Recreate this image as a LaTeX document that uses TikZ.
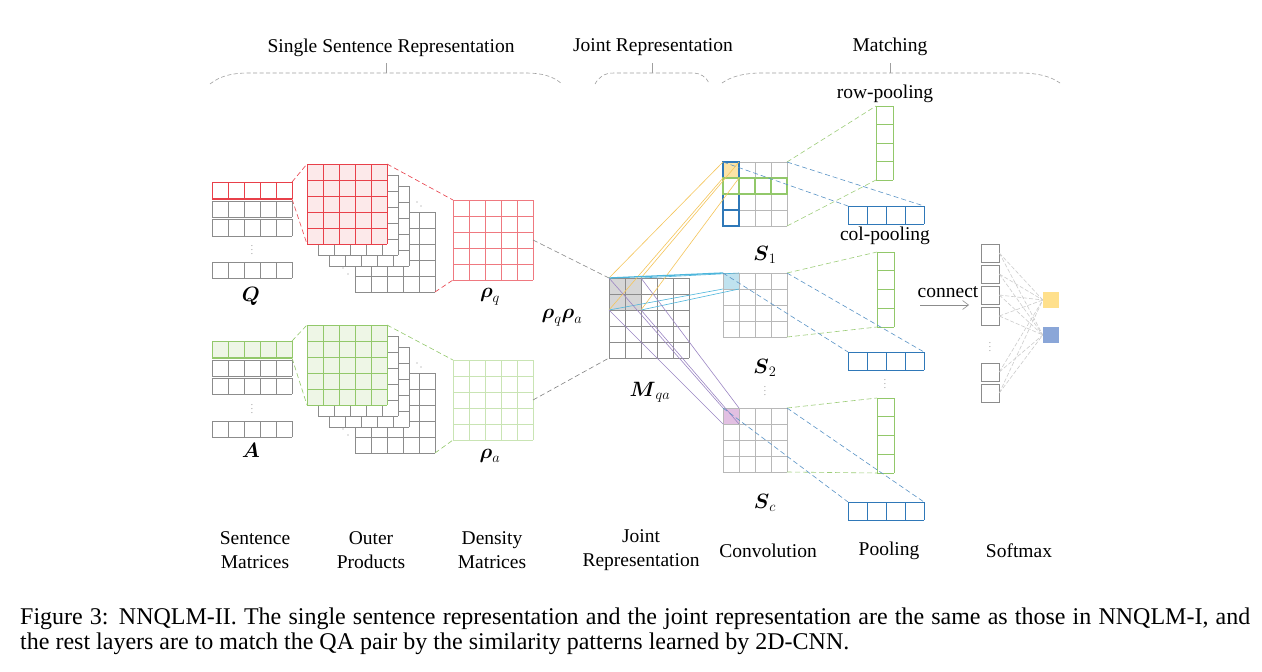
\documentclass[tikz,border=0pt]{standalone}
\usepackage{amsmath}
\usepackage{fontspec}
\setmainfont{Liberation Serif}
\usetikzlibrary{arrows.meta}
\definecolor{qred}{HTML}{E8404A}
\definecolor{qpink}{HTML}{FCE9EA}
\definecolor{agreen}{HTML}{92C86A}
\definecolor{alightg}{HTML}{EEF6E6}
\definecolor{apale}{HTML}{C9E4B4}
\definecolor{mgray}{HTML}{8C8C8C}
\definecolor{lgray}{HTML}{B8B8B8}
\definecolor{pblue}{HTML}{2F78B8}
\definecolor{yline}{HTML}{F5C55A}
\definecolor{yfill}{HTML}{FBE3A6}
\definecolor{cline}{HTML}{4DB6DC}
\definecolor{cfill}{HTML}{BFE2EF}
\definecolor{pline}{HTML}{9C86C4}
\definecolor{pfill}{HTML}{E2C0E2}
\definecolor{mfill}{HTML}{D6D6D6}
\definecolor{smy}{HTML}{FFE08C}
\definecolor{smb}{HTML}{8AA6D8}
\newcommand{\gridmat}[9]{%
 \begin{scope}[shift={(#2,#3)}]
  \path[#9] (0,0) rectangle ({#4*#6},{#5*#7});
  \foreach \ii in {0,...,#4} \draw[#8] ({\ii*#6},0) -- ({\ii*#6},{#5*#7});
  \foreach \jj in {0,...,#5} \draw[#8] (0,{\jj*#7}) -- ({#4*#6},{\jj*#7});
  \coordinate (#1-nw) at (0,0);
  \coordinate (#1-ne) at ({#4*#6},0);
  \coordinate (#1-sw) at (0,{#5*#7});
  \coordinate (#1-se) at ({#4*#6},{#5*#7});
  \coordinate (#1-e) at ({#4*#6},{#5*#7/2});
 \end{scope}}
\tikzset{
 txt/.style={font=\fontsize{19.5}{24}\selectfont, inner sep=0pt, align=center},
 mlab/.style={font=\fontsize{21}{24}\selectfont, inner sep=0pt},
 dotn/.style={font=\fontsize{9}{9}\selectfont, text=mgray, inner sep=0pt},
 brace/.style={draw=gray!75, dash pattern=on 4pt off 2.5pt, line width=0.6pt},
 tick/.style={draw=gray!75, line width=0.6pt},
 gline/.style={draw=mgray, line width=0.6pt},
 sline/.style={draw=lgray, line width=0.6pt},
 reddash/.style={draw=qred, dash pattern=on 5pt off 3pt, line width=0.6pt},
 grndash/.style={draw=agreen, dash pattern=on 5pt off 3pt, line width=0.6pt},
 graydash/.style={draw=gray, dash pattern=on 5pt off 3pt, line width=0.6pt},
 bluedash/.style={draw=pblue!80, dash pattern=on 5pt off 3pt, line width=0.6pt},
 gpdash/.style={draw=agreen!90, dash pattern=on 5pt off 3pt, line width=0.6pt},
 smdash/.style={draw=gray!40, dash pattern=on 4pt off 2pt, line width=0.6pt},
 smbox/.style={draw=mgray, line width=0.6pt, fill=white, minimum width=18pt, minimum height=18pt, inner sep=0pt},
 outbox/.style={minimum width=16pt, minimum height=16pt, inner sep=0pt},
 captxt/.style={anchor=base west, inner sep=0pt, font=\fontsize{24}{25}\selectfont},
}
\begin{document}
\begin{tikzpicture}[x=1pt,y=-1pt]
\useasboundingbox (0,0) rectangle (1262,672);
\fill[white] (0,0) rectangle (1262,672);

% ---------- top headings and braces
\node[txt] (h1) at (391,48) {Single Sentence Representation};
\node[txt] (h2) at (653,47) {Joint Representation};
\node[txt] (h3) at (890,47) {Matching};
\draw[brace] (210,84) .. controls (220,76) and (232,73) .. (248,73) -- (525,73) .. controls (542,73) and (553,76) .. (562,84);
\draw[tick] (386,73) -- (386,63);
\draw[brace] (595,84) .. controls (599,77) and (604,73) .. (614,73) -- (692,73) .. controls (701,73) and (706,77) .. (709,83);
\draw[tick] (652,73) -- (652,63);
\draw[brace] (722,83) .. controls (732,76) and (745,73) .. (762,73) -- (1020,73) .. controls (1037,73) and (1050,76) .. (1060,83);
\draw[tick] (890,73) -- (890,63);

% ---------- Q sentence matrix
\gridmat{qr1}{212}{182}{5}{1}{16}{17}{draw=qred,line width=0.9pt}{fill=white}
\draw[qred, line width=1.6pt] (qr1-sw) -- (qr1-se);
\gridmat{qr2}{212}{201}{5}{1}{16}{16}{gline}{fill=white}
\gridmat{qr3}{212}{219}{5}{1}{16}{17}{gline}{fill=white}
\gridmat{qr4}{212}{262}{5}{1}{16}{16}{gline}{fill=white}
\node[dotn] (qd) at (252,247) {$\vdots$};
\node[mlab] (qlab) at (251,296) {$\boldsymbol{Q}$};

% ---------- Q outer products
\gridmat{ql3}{355}{212}{5}{5}{16}{16}{gline}{fill=white}
\gridmat{ql2}{329}{186}{5}{5}{16}{16}{gline}{fill=white}
\gridmat{ql1}{318}{175}{5}{5}{16}{16}{gline}{fill=white}
\gridmat{qf}{307}{164}{5}{5}{16}{16}{draw=qred,line width=0.7pt}{fill=qpink}
\fill[mgray] (417,202) circle (0.7pt) (421,206) circle (0.7pt);
\fill[mgray] (343,268) circle (0.7pt) (348,274) circle (0.7pt);
\draw[reddash] (qr1-ne) -- (qf-nw);
\draw[reddash] (qr1-se) -- (qf-sw);

% ---------- rho_q
\gridmat{rq}{453}{200}{5}{5}{16}{16}{draw=qred!70,line width=0.6pt}{fill=white}
\draw[reddash] (qf-ne) -- (rq-nw);
\draw[reddash] (ql3-se) -- (rq-sw);
\node[mlab] (rqlab) at (490,297) {$\boldsymbol{\rho}_q$};

% ---------- A sentence matrix
\gridmat{ar1}{212}{341}{5}{1}{16}{17}{draw=agreen,line width=0.9pt}{fill=alightg}
\draw[agreen, line width=1.4pt] (ar1-sw) -- (ar1-se);
\gridmat{ar2}{212}{360}{5}{1}{16}{16}{gline}{fill=white}
\gridmat{ar3}{212}{378}{5}{1}{16}{16}{gline}{fill=white}
\gridmat{ar4}{212}{421}{5}{1}{16}{16}{gline}{fill=white}
\node[dotn] (ad) at (252,406) {$\vdots$};
\node[mlab] (alab) at (251,450) {$\boldsymbol{A}$};

% ---------- A outer products
\gridmat{al3}{355}{373}{5}{5}{16}{16}{gline}{fill=white}
\gridmat{al2}{329}{347}{5}{5}{16}{16}{gline}{fill=white}
\gridmat{al1}{318}{336}{5}{5}{16}{16}{gline}{fill=white}
\gridmat{af}{307}{325}{5}{5}{16}{16}{draw=agreen,line width=0.7pt}{fill=alightg}
\fill[mgray] (417,363) circle (0.7pt) (421,367) circle (0.7pt);
\fill[mgray] (343,429) circle (0.7pt) (348,435) circle (0.7pt);
\draw[grndash] (ar1-ne) -- (af-nw);
\draw[grndash] (ar1-se) -- (af-sw);

% ---------- rho_a
\gridmat{ra}{453}{360}{5}{5}{16}{16}{draw=apale,line width=0.6pt}{fill=white}
\draw[grndash] (af-ne) -- (ra-nw);
\draw[grndash] (al3-se) -- (ra-sw);
\node[mlab] (ralab) at (490,456) {$\boldsymbol{\rho}_a$};

% ---------- joint representation
\fill[mfill] (609,278) rectangle (641,310);
\gridmat{mqa}{609}{278}{5}{5}{16}{16}{draw=mgray,line width=0.7pt}{}
\draw[graydash] (rq-e) -- (mqa-nw);
\draw[graydash] (ra-e) -- (mqa-sw);
\node[mlab] (rqra) at (562,318) {$\boldsymbol{\rho}_q\boldsymbol{\rho}_a$};
\node[mlab] (mlab) at (650,392) {$\boldsymbol{M}_{qa}$};
\coordinate (b1) at (609,278);
\coordinate (b2) at (641,278);
\coordinate (b3) at (609,310);
\coordinate (b4) at (641,310);

% ---------- convolution S1
\gridmat{s1}{723}{162}{4}{4}{16}{16}{sline}{fill=white}
\fill[yfill] (723,162) rectangle (739,178);
\foreach \k in {0,...,3} \draw[pblue, line width=1.3pt] (723,{162+16*\k}) rectangle (739,{178+16*\k});
\foreach \k in {0,...,3} \draw[agreen, line width=1.1pt] ({723+16*\k},178) rectangle ({739+16*\k},194);
\node[mlab] (s1lab) at (765,255) {$\boldsymbol{S}_1$};

% ---------- S2
\gridmat{s2}{723}{273}{4}{4}{16}{16}{sline}{fill=white}
\fill[cfill] (723,273) rectangle (739,289);
\draw[sline] (723,273) rectangle (739,289);
\node[mlab] (s2lab) at (765,368) {$\boldsymbol{S}_2$};
\node[dotn] (sd) at (765,388) {$\vdots$};

% ---------- Sc
\gridmat{sc}{723}{408}{4}{4}{16}{16}{sline}{fill=white}
\fill[pfill] (723,408) rectangle (739,424);
\draw[sline] (723,408) rectangle (739,424);
\node[mlab] (sclab) at (765,503) {$\boldsymbol{S}_c$};

% ---------- lines from the joint matrix to the feature maps
\foreach \a/\t in {b1/{723,162}, b2/{739,162}, b3/{723,178}, b4/{739,178}}
  \draw[yline, line width=0.6pt] (\a) -- (\t);
\draw[cline, line width=1.3pt] (b1) -- (723,273);
\foreach \a/\t in {b2/{739,273}, b3/{723,289}, b4/{739,289}}
  \draw[cline, line width=0.6pt] (\a) -- (\t);
\foreach \a/\t in {b1/{723,408}, b2/{739,408}, b3/{723,424}, b4/{739,424}}
  \draw[pline, line width=0.6pt] (\a) -- (\t);

% ---------- pooling
\gridmat{rp1}{876}{106}{1}{4}{17}{18.5}{draw=agreen,line width=0.9pt}{fill=white}
\gridmat{cp1}{848}{206}{4}{1}{19}{18}{draw=pblue,line width=0.9pt}{fill=white}
\gridmat{rp2}{877}{252}{1}{4}{17}{18.75}{draw=agreen,line width=0.9pt}{fill=white}
\gridmat{cp2}{848}{352}{4}{1}{19}{18}{draw=pblue,line width=0.9pt}{fill=white}
\gridmat{rp3}{877}{398}{1}{4}{17}{18.75}{draw=agreen,line width=0.9pt}{fill=white}
\gridmat{cp3}{848}{502}{4}{1}{19}{18}{draw=pblue,line width=0.9pt}{fill=white}
\draw[gpdash] (s1-ne) -- (rp1-nw);
\draw[gpdash] (s1-se) -- (rp1-sw);
\draw[bluedash] (s1-nw) -- (cp1-nw);
\draw[bluedash] (s1-ne) -- (cp1-ne);
\draw[gpdash] (s2-ne) -- (rp2-nw);
\draw[gpdash] (s2-se) -- (rp2-sw);
\draw[bluedash] (s2-nw) -- (cp2-nw);
\draw[bluedash] (s2-ne) -- (cp2-ne);
\draw[gpdash] (sc-ne) -- (rp3-nw);
\draw[gpdash] (sc-se) -- (rp3-sw);
\draw[bluedash] (sc-nw) -- (cp3-nw);
\draw[bluedash] (sc-ne) -- (cp3-ne);
\node[txt] (rowp) at (885,94) {row-pooling};
\node[txt] (colp) at (885,236) {col-pooling};
\node[dotn] (pd) at (885,381) {$\vdots$};

% ---------- softmax
\node[smbox] (sm1) at (990,253) {};
\node[smbox] (sm2) at (990,274) {};
\node[smbox] (sm3) at (990,295) {};
\node[smbox] (sm4) at (990,316) {};
\node[smbox] (sm5) at (990,372) {};
\node[smbox] (sm6) at (990,393) {};
\node[dotn] (smd) at (990,344) {$\vdots$};
\node[outbox] (ys) at (1051,300) {};
\node[outbox] (bs) at (1051,335) {};
\foreach \i in {1,...,6} {
  \draw[smdash] (sm\i.east) -- (ys.west);
  \draw[smdash] (sm\i.east) -- (bs.west);
}
\fill[smy] (ys.north west) rectangle (ys.south east);
\fill[smb] (bs.north west) rectangle (bs.south east);
\node[txt] (conn) at (948,292) {connect};
\coordinate (ca1) at (920,305);
\coordinate (ca2) at (969,305);
\draw[mgray, line width=0.6pt, -{Straight Barb[length=6pt,width=9pt]}] (ca1) -- (ca2);

% ---------- bottom labels
\node[txt] (l1) at (255,550) {Sentence\\Matrices};
\node[txt] (l2) at (371,550) {Outer\\Products};
\node[txt] (l3) at (492,550) {Density\\Matrices};
\node[txt] (l4) at (641,550) {Joint\\Representation};
\node[txt] (l5) at (768,551) {Convolution};
\node[txt] (l6) at (889,551) {Pooling};
\node[txt] (l7) at (1019,551) {Softmax};

% ---------- caption
\node[captxt] (cap1) at (20,624) {\makebox[1230pt][s]{Figure 3: NNQLM-II. The single sentence representation and the joint representation are the same as those in NNQLM-I, and}};
\node[captxt] (cap2) at (20,649) {the rest layers are to match the QA pair by the similarity patterns learned by 2D-CNN.};
\end{tikzpicture}
\end{document}
